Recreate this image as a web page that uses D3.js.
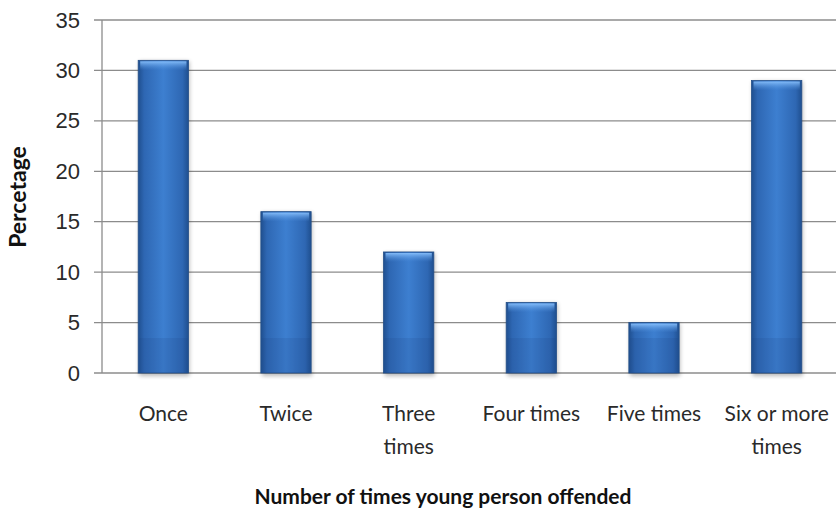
<!DOCTYPE html>
<html>
<head>
<meta charset="utf-8">
<script src="https://cdn.jsdelivr.net/npm/d3@7"></script>
<style>
  html, body { margin: 0; padding: 0; background: #fff; }
  svg { display: block; font-family: Lato, "Open Sans", "Liberation Sans", sans-serif; }
</style>
</head>
<body>
<svg id="chart" width="836" height="516"></svg>
<script>
// Share of young people by number of offences
const categories = ["Once", "Twice", "Three times", "Four times", "Five times", "Six or more times"];
const categoryLines = [["Once"], ["Twice"], ["Three", "times"], ["Four times"], ["Five times"], ["Six or more", "times"]];
const percentages = [31, 16, 12, 7, 5, 29];
const yTicks = [0, 5, 10, 15, 20, 25, 30, 35];

const svg = d3.select("#chart");
const margin = { left: 102, right: -2, top: 20, bottom: 143 };
const W = 836, H = 516;
const plotW = W - margin.left - margin.right;
const plotH = H - margin.top - margin.bottom;

const x = d3.scaleBand().domain(categories).range([margin.left, margin.left + plotW]).paddingInner(0.59).paddingOuter(0.295);
const y = d3.scaleLinear().domain([0, 35]).range([margin.top + plotH, margin.top]);

const defs = svg.append("defs");
const sideGrad = defs.append("linearGradient").attr("id", "barFill").attr("x1", 0).attr("x2", 1).attr("y1", 0).attr("y2", 0);
[[0, "#1f4f8f"], [0.12, "#2e67b3"], [0.5, "#3d7fd0"], [0.88, "#2e67b3"], [1, "#1f4f8f"]]
  .forEach(([o, c]) => sideGrad.append("stop").attr("offset", o).attr("stop-color", c));
const shineGrad = defs.append("linearGradient").attr("id", "topShine").attr("x1", 0).attr("x2", 0).attr("y1", 0).attr("y2", 1);
shineGrad.append("stop").attr("offset", 0).attr("stop-color", "#8cc4ff").attr("stop-opacity", 0.9);
shineGrad.append("stop").attr("offset", 1).attr("stop-color", "#4f8fdc").attr("stop-opacity", 0);
const blur = defs.append("filter").attr("id", "shadow").attr("x", "-20%").attr("y", "-5%").attr("width", "140%").attr("height", "115%");
blur.append("feGaussianBlur").attr("stdDeviation", 2);

// gridlines and tick marks
const yAxis = d3.axisLeft(y).tickValues(yTicks).tickSize(0).tickPadding(22);
svg.append("g").selectAll("line").data(yTicks).join("line")
  .attr("x1", margin.left - 8).attr("x2", W)
  .attr("y1", d => y(d)).attr("y2", d => y(d))
  .attr("stroke", "#8c8c8c").attr("stroke-width", 1.3);

const ya = svg.append("g").attr("transform", `translate(${margin.left},0)`).call(yAxis);
ya.select(".domain").remove();
ya.selectAll("text").attr("font-size", 22).attr("fill", "#2a2a2a");
svg.append("line").attr("x1", margin.left).attr("x2", margin.left)
  .attr("y1", margin.top).attr("y2", y(0)).attr("stroke", "#8c8c8c").attr("stroke-width", 1.3);

// bars
const bars = svg.append("g").selectAll("g").data(categories).join("g");
bars.append("rect")
  .attr("x", d => x(d) + 1).attr("width", x.bandwidth())
  .attr("y", (d, i) => y(percentages[i]) + 1).attr("height", (d, i) => y(0) - y(percentages[i]) + 2)
  .attr("fill", "#000").attr("opacity", 0.28).attr("filter", "url(#shadow)");
bars.append("rect")
  .attr("x", d => x(d)).attr("width", x.bandwidth())
  .attr("y", (d, i) => y(percentages[i])).attr("height", (d, i) => y(0) - y(percentages[i]))
  .attr("fill", "url(#barFill)").attr("stroke", "#244f88").attr("stroke-width", 0.8);
bars.append("rect")
  .attr("x", d => x(d) + 2).attr("width", x.bandwidth() - 4)
  .attr("y", (d, i) => y(percentages[i]) + 1).attr("height", 9)
  .attr("fill", "url(#topShine)");
bars.append("rect")
  .attr("x", d => x(d) + 1).attr("width", x.bandwidth() - 2)
  .attr("y", y(0) - 35).attr("height", 35)
  .attr("fill", "#1d3f80").attr("opacity", 0.14);

// category labels
const xl = svg.append("g");
categories.forEach((c, i) => {
  const t = xl.append("text").attr("x", x(c) + x.bandwidth() / 2).attr("y", 421)
    .attr("text-anchor", "middle").attr("font-size", 21).attr("fill", "#2a2a2a");
  categoryLines[i].forEach((line, j) => t.append("tspan").attr("x", x(c) + x.bandwidth() / 2).attr("dy", j ? 33 : 0).text(line));
});

// axis titles
svg.append("text").attr("x", 443).attr("y", 504).attr("text-anchor", "middle")
  .attr("font-size", 21).attr("font-weight", "bold").attr("fill", "#111")
  .text("Number of times young person offended");
svg.append("text").attr("transform", `translate(26,197) rotate(-90)`)
  .attr("text-anchor", "middle").attr("font-size", 23).attr("font-weight", "bold").attr("fill", "#111")
  .text("Percetage");
</script>
</body>
</html>
